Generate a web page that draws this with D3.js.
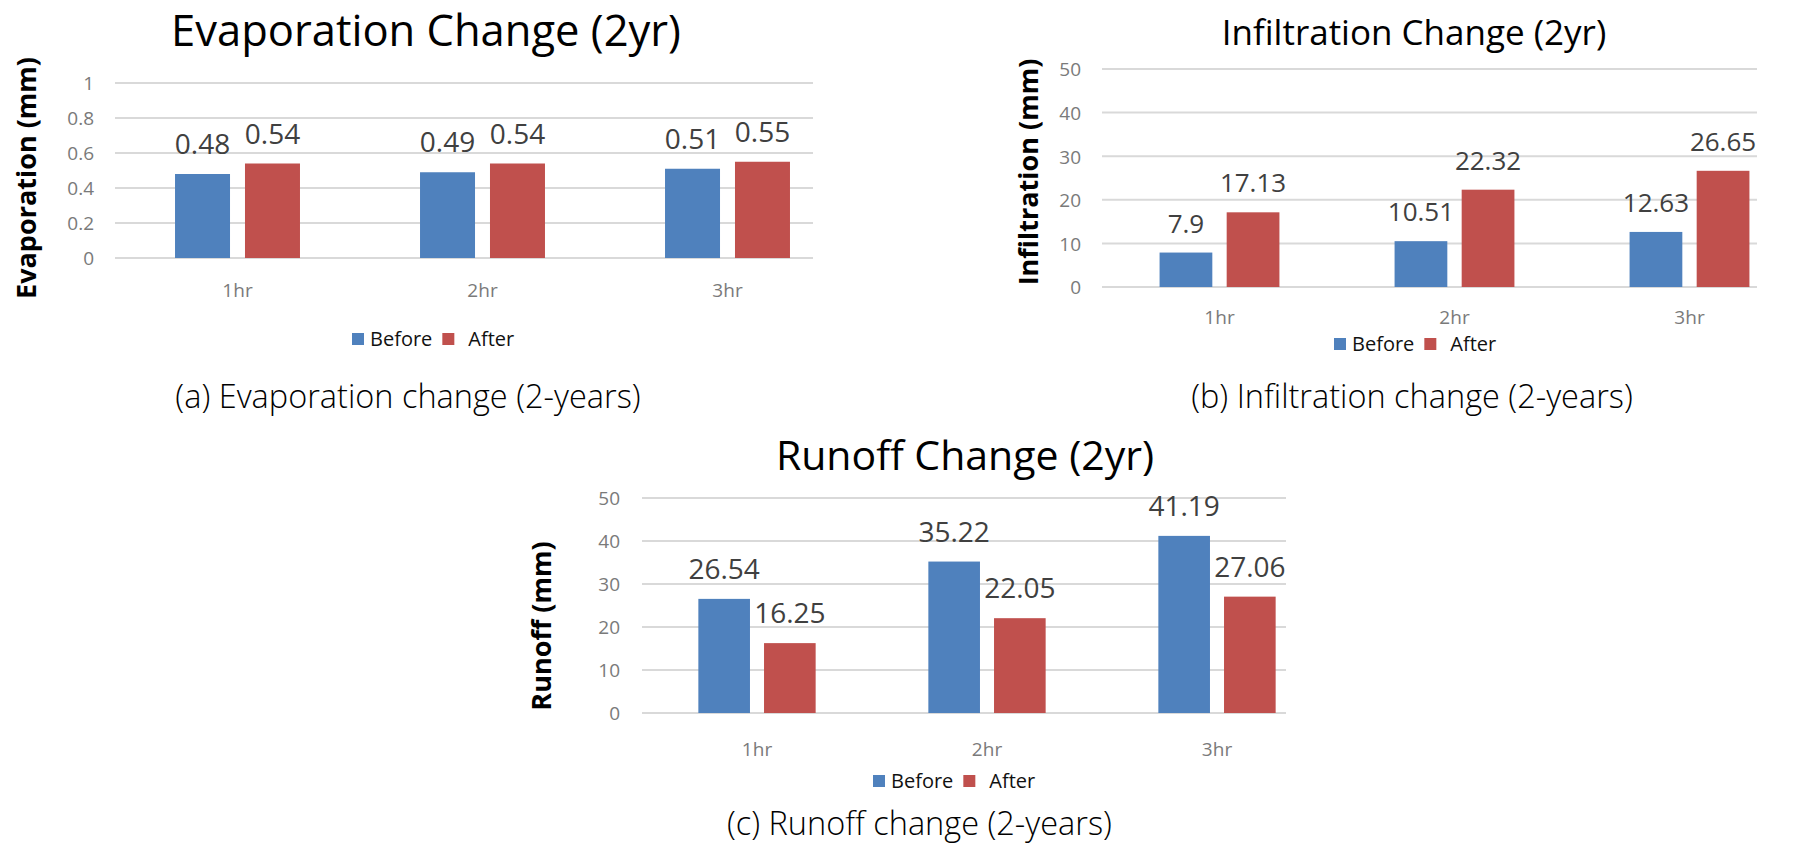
<!DOCTYPE html>
<html lang="en">
<head>
    <meta charset="utf-8">
    <title>Evaporation / Infiltration / Runoff Change (2yr)</title>
    <script src="https://d3js.org/d3.v7.min.js"></script>
    <style>
        body {
            margin: 0;
            background: #fff;
        }

        svg {
            display: block;
            font-family: "Open Sans", "Noto Sans", sans-serif;
        }

        .grid line {
            stroke: #d9d9d9;
            stroke-width: 2px;
        }

        .tick-label, .cat-label {
            fill: #7a7a7a;
        }

        .value-label {
            fill: #404040;
        }
    </style>
</head>
<body>
<svg id="target" width="1819" height="848"></svg>
<script type="text/javascript">
    // data
    const categories = ['1hr', '2hr', '3hr'];
    const seriesNames = ['Before', 'After'];
    const seriesColors = ['#4f81bd', '#c0504d'];

    const evapBefore = [0.48, 0.49, 0.51];
    const evapAfter = [0.54, 0.54, 0.55];
    const evapTicks = [0, 0.2, 0.4, 0.6, 0.8, 1];

    const infilBefore = [7.9, 10.51, 12.63];
    const infilAfter = [17.13, 22.32, 26.65];
    const infilTicks = [0, 10, 20, 30, 40, 50];

    const runoffBefore = [26.54, 35.22, 41.19];
    const runoffAfter = [16.25, 22.05, 27.06];
    const runoffTicks = [0, 10, 20, 30, 40, 50];

    const svg = d3.select('#target');

    // layout of each small chart (pixels)
    const panels = [
        {
            title: 'Evaporation Change (2yr)', yLabel: 'Evaporation (mm)',
            caption: '(a) Evaporation change (2-years)',
            before: evapBefore, after: evapAfter, ticks: evapTicks,
            x0: 115, x1: 850, gridEnd: 813, yTop: 83, yBot: 258,
            titleX: 426, titleY: 46, titleSize: 43.5,
            ylabX: 25, ylabY: 178, tickRight: 94, catY: 297,
            legX: 352, legY: 339, capX: 408, capY: 408, capAnchor: 'middle', valSize: 28
        },
        {
            title: 'Infiltration Change (2yr)', yLabel: 'Infiltration (mm)',
            caption: '(b) Infiltration change (2-years)',
            before: infilBefore, after: infilAfter, ticks: infilTicks,
            x0: 1102, x1: 1807, gridEnd: 1757, yTop: 69, yBot: 287,
            titleX: 1414, titleY: 45, titleSize: 35,
            ylabX: 1027, ylabY: 172, tickRight: 1081, catY: 324,
            legX: 1334, legY: 344, capX: 1412, capY: 408, capAnchor: 'middle', valSize: 26
        },
        {
            title: 'Runoff Change (2yr)', yLabel: 'Runoff (mm)',
            caption: '(c) Runoff change (2-years)',
            before: runoffBefore, after: runoffAfter, ticks: runoffTicks,
            x0: 642, x1: 1332, gridEnd: 1286, yTop: 498, yBot: 713,
            titleX: 965, titleY: 470, titleSize: 41,
            ylabX: 540, ylabY: 626, tickRight: 620, catY: 756,
            legX: 873, legY: 781, capX: 727, capY: 835, capAnchor: 'start', valSize: 28
        }
    ];

    panels.forEach(drawPanel);

    function drawPanel(p) {
        const g = svg.append('g');
        const maxTick = d3.max(p.ticks);

        const x = d3.scaleBand().domain(categories).range([p.x0, p.x1]).padding(0);
        const bw = x.bandwidth();
        // two bars per category, about half of the band, small gap between them
        const xs = d3.scaleBand().domain(seriesNames)
            .range([bw * 0.245, bw * 0.755]).paddingInner(0.214);
        const y = d3.scaleLinear().domain([0, maxTick]).range([p.yBot, p.yTop]);

        // gridlines
        g.append('g').attr('class', 'grid')
            .selectAll('line')
            .data(p.ticks)
            .join('line')
            .attr('x1', p.x0)
            .attr('x2', p.gridEnd)
            .attr('y1', d => y(d))
            .attr('y2', d => y(d));

        // y tick labels
        const yAxis = d3.axisLeft(y).tickValues(p.ticks).tickSize(0).tickFormat(d => String(d));
        const ax = g.append('g')
            .attr('transform', 'translate(' + (p.tickRight) + ',0)')
            .call(yAxis);
        ax.select('.domain').remove();
        ax.selectAll('text')
            .attr('class', 'tick-label')
            .attr('x', 0)
            .attr('dy', '0.36em')
            .attr('font-size', 19)
            .attr('font-family', '"Open Sans", sans-serif');

        // bars
        const rows = categories.map((c, i) => ({cat: c, values: [p.before[i], p.after[i]]}));
        const groups = g.selectAll('g.cat')
            .data(rows)
            .join('g')
            .attr('class', 'cat')
            .attr('transform', d => 'translate(' + x(d.cat) + ',0)');

        groups.selectAll('rect')
            .data(d => d.values.map((v, j) => ({name: seriesNames[j], v: v, color: seriesColors[j]})))
            .join('rect')
            .attr('x', d => xs(d.name))
            .attr('width', xs.bandwidth())
            .attr('y', d => y(d.v))
            .attr('height', d => y(0) - y(d.v))
            .attr('fill', d => d.color);

        groups.selectAll('text.value-label')
            .data(d => d.values.map((v, j) => ({name: seriesNames[j], v: v})))
            .join('text')
            .attr('class', 'value-label')
            .attr('x', d => xs(d.name) + xs.bandwidth() / 2)
            .attr('y', d => y(d.v) - 20)
            .attr('text-anchor', 'middle')
            .attr('font-size', p.valSize)
            .text(d => String(d.v));

        // category labels
        g.selectAll('text.cat-label')
            .data(categories)
            .join('text')
            .attr('class', 'cat-label')
            .attr('x', d => x(d) + bw / 2)
            .attr('y', p.catY)
            .attr('text-anchor', 'middle')
            .attr('font-size', 19)
            .text(d => d);

        // title
        g.append('text')
            .attr('x', p.titleX)
            .attr('y', p.titleY)
            .attr('text-anchor', 'middle')
            .attr('font-size', p.titleSize)
            .attr('fill', '#000')
            .text(p.title);

        // y axis title
        g.append('text')
            .attr('transform', 'translate(' + p.ylabX + ',' + p.ylabY + ') rotate(-90)')
            .attr('text-anchor', 'middle')
            .attr('dominant-baseline', 'central')
            .attr('font-size', 27)
            .attr('font-weight', 'bold')
            .attr('fill', '#000')
            .text(p.yLabel);

        // legend
        const leg = g.append('g');
        let lx = p.legX;
        seriesNames.forEach((name, j) => {
            leg.append('rect')
                .attr('x', lx)
                .attr('y', p.legY - 6)
                .attr('width', 12)
                .attr('height', 12)
                .attr('fill', seriesColors[j]);
            lx += j === 0 ? 18 : 26;
            const t = leg.append('text')
                .attr('x', lx)
                .attr('y', p.legY + 7)
                .attr('font-size', 20)
                .attr('fill', '#111')
                .text(name);
            lx += t.node().getComputedTextLength() + 10;
        });

        // caption under the chart
        g.append('text')
            .attr('x', p.capX)
            .attr('y', p.capY)
            .attr('text-anchor', p.capAnchor)
            .attr('font-size', 32.5)
            .attr('font-weight', 300)
            .attr('fill', '#000')
            .text(p.caption);
    }
</script>
</body>
</html>
